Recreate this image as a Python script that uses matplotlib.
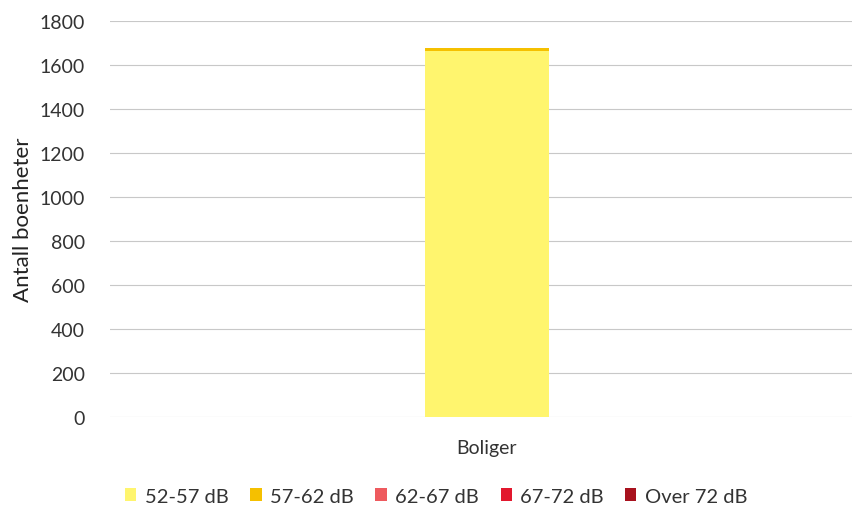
import matplotlib
matplotlib.use("Agg")
import matplotlib.pyplot as plt
from matplotlib.patches import Patch

plt.rcParams['font.family'] = ['Lato', 'DejaVu Sans']

categories = ["Boliger"]
series_names = ["52-57 dB", "57-62 dB", "62-67 dB", "67-72 dB", "Over 72 dB"]
series_values = [[1663], [14], [0], [0], [0]]
colors = ["#FFF56E", "#F5C000", "#EE5A5E", "#E2182E", "#A8121E"]
yticks = [0, 200, 400, 600, 800, 1000, 1200, 1400, 1600, 1800]

fig = plt.figure(figsize=(8.52, 5.06), dpi=100)
ax = fig.add_axes([0.129, 0.174, 0.871, 0.783])

bottom = [0] * len(categories)
for name, vals, c in zip(series_names, series_values, colors):
    ax.bar(categories, vals, bottom=bottom, color=c, width=0.167, label=name, zorder=3)
    bottom = [b + v for b, v in zip(bottom, vals)]

ax.set_xlim(-0.508, 0.492)
ax.set_ylim(0, 1800)
ax.set_yticks(yticks)
ax.yaxis.grid(True, color="#C8C8C8", linewidth=0.8, zorder=0)
for s in ax.spines.values():
    s.set_visible(False)
ax.tick_params(axis='x', length=0, labelsize=14, colors="#333333", pad=16)
ax.tick_params(axis='y', length=0, labelsize=14, colors="#333333", pad=18)
ax.set_ylabel("Antall boenheter", fontsize=16, color="#222222", labelpad=5)

handles = [Patch(facecolor=c, label=n) for n, c in zip(series_names, colors)]
fig.legend(handles=handles, loc='lower center', bbox_to_anchor=(0.512, -0.035), ncol=5,
           frameon=False, fontsize=14.5, handlelength=0.55, handleheight=0.55,
           handletextpad=0.4, columnspacing=1.1, labelcolor="#333333")

fig.savefig("out.png", dpi=100)
